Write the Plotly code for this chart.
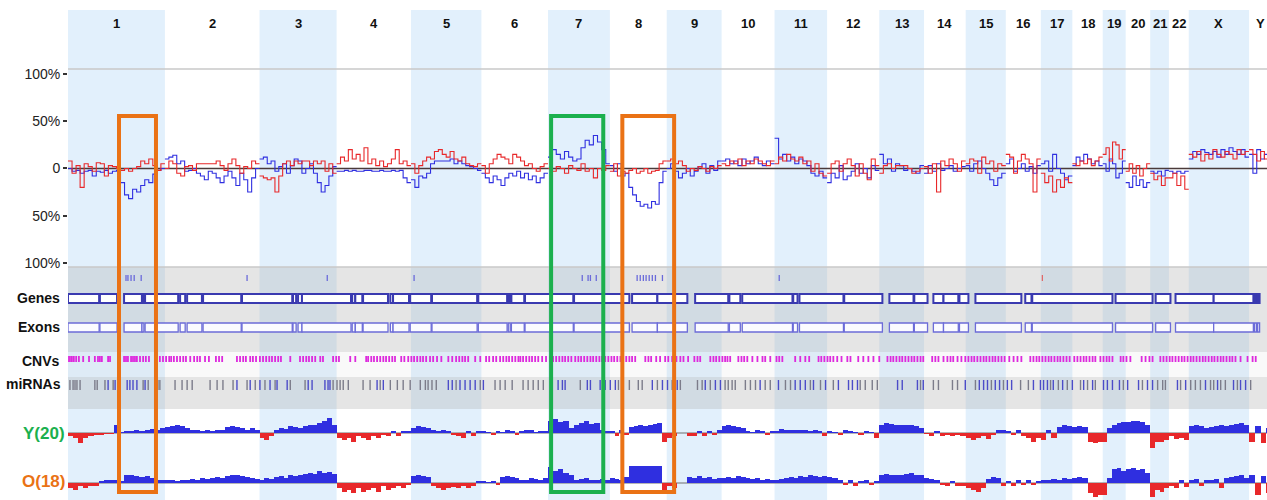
import plotly.graph_objects as go

# ---------------- data ----------------
CHROMS = [str(i) for i in range(1, 23)] + ["X", "Y"]
CHROM_LEN_MB = [249, 243, 198, 191, 181, 171, 159, 146, 141, 136, 135, 134,
                115, 107, 103, 90, 81, 78, 59, 63, 48, 51, 155, 59]
GENOME_VIEW_MB = 3080

# allele-imbalance (%) per chromosome, evenly spaced bins
BLUE = [
    [0, -3, -2, -5, -3, -2, -8, -3, -4, -2, -5, -3, -2, -15, -28, -32, -22, -25, -18, -12, -15, -6, -2, 0],
    [10, 12, 14, 5, 8, -3, -2, 0, -5, -8, -12, -3, -5, -10, -15, -8, -3, -10, -18, -5, -12, -25, -10, 0],
    [10, 12, 5, 8, -3, 2, 5, -5, 3, 10, 8, -5, 0, 5, -5, -15, -25, -18, -8, 2],
    [-3, -3, -2, -3, -2, -3, -3, -2, -2, -3, -3, -2, -3, -3, -2, -3, -2, -10, -15],
    [-12, -20, -8, -10, -5, 5, 8, 8, 8, 8, 10, 5, 8, 5, 3, 2, 0, -2],
    [-5, -10, -15, -8, -12, -18, -10, -5, -8, -3, -10, -5, -12, -8, -15, -10, -5],
    [12, 20, 15, 10, 18, 12, 8, 10, 22, 30, 25, 35, 28, 20, 5],
    [3, -3, 5, -8, -5, -20, -28, -35, -40, -38, -42, -35, -38, -15, -3],
    [0, 5, -3, -10, -5, 0, -8, -3, 2, 5, -5, 3, -2, 8],
    [8, 10, 5, 8, 3, 10, 5, 8, 12, 5, 3, 8, 5],
    [32, 10, 15, 8, 12, 5, 10, 8, 3, -5, -8, -3, -10],
    [-15, -5, -10, 3, -12, -8, -3, 5, -5, 0, -10, 3, -2],
    [15, 5, 10, -3, 5, 3, -2, 0, -3, -5, 3],
    [-5, 3, -3, 5, -2, 0, 3, -3, 0, 2],
    [3, -3, 5, 8, 0, -5, -12, -18, -10, -5],
    [5, 10, -3, 0, 5, -3, 2, -5, 3],
    [5, 8, -3, 15, 0, -5, -12, -8],
    [3, 12, 8, 15, 10, 5, 8, 3],
    [5, -3, 10, 5, -10, -5, 8],
    [-15, -20, -8, -18, -12, -20, -15],
    [-3, -5, -3, -8, -2],
    [-3, -5, -3, -5, -3],
    [10, 18, 15, 20, 17, 15, 18, 12, 20, 15, 22, 18, 15, 20, 12],
    [15, -5, 20, 10, 15, 10],
]
RED = [
    [8, -5, 3, -20, 5, 2, -3, 6, 5, -8, 3, 2, 0, -2, 0, -3, 0, 2, 8, 5, 10, 3, -2, 5],
    [0, 8, 5, -5, -8, 2, 3, -2, 5, 5, 5, 5, 5, 8, 3, -2, 5, 10, 3, -5, 2, 0, 8, 5],
    [-8, -10, -12, -10, -25, -8, 5, 8, 3, 8, 5, 8, 8, 3, 8, 5, 8, -3, 5, -5],
    [5, 12, 8, 20, 10, 15, 8, 22, 5, 10, 3, 8, 2, 5, 10, 20, 5, 8, 3],
    [5, -5, 3, 8, 12, 10, 18, 20, 15, 12, 18, 10, 8, 12, 5, 3, 2, 5],
    [3, -5, 5, 10, 15, 12, 10, 5, 15, 12, 8, 3, 5, 0, -3, 2, 5],
    [0, -3, 2, 0, -5, 3, 0, -2, 5, -3, 0, -10, 0, -2, 3],
    [-3, 5, -8, -3, -5, -2, 0, -5, -3, 0, -5, -3, -2, 5, 8],
    [8, 10, 5, 8, 3, -3, 0, -2, 2, 0, -3, 2, 0, 3],
    [5, 3, 8, 5, 10, 3, 8, 5, 10, 8, 5, 3, 8],
    [5, 12, 8, 15, 10, 8, 12, 5, 8, -3, 5, -5, -8],
    [-5, 5, 8, -3, 5, 10, 3, -8, 5, -5, -12, 10, 3],
    [-5, 3, 5, 0, 3, 3, 3, 0, -5, -3, 0],
    [2, -5, 5, -25, 8, 3, 10, 5, -3, 8],
    [5, 10, 8, -5, 12, 5, 8, -3, 5, 3],
    [15, 12, -5, 8, 15, 10, 5, -25, 10],
    [-5, -15, -8, -25, -12, -20, -10, -15],
    [5, 3, 8, 5, 10, 3, 8, 12],
    [15, 22, 8, 28, 25, 10, 20],
    [-3, 5, -5, 3, -8, 0, 5],
    [-5, -12, -8, -18, -10],
    [-10, -5, -18, -8, -22],
    [15, 12, 18, 8, 15, 10, 20, 15, 12, 18, 15, 10, 20, 15, 18],
    [20, 15, 8, 18, 10, 12],
]
# cohort tracks (relative units)
YOUNG = [
    [-0.2, -0.3, -0.6, -0.3, -0.2, -0.1, -0.1, -0.05, -0.05, 0.5, 0.05, 0.1, 0.1, 0.15, 0.1, 0.2, 0.25, 0.2, 0.3],
    [0.35, 0.4, 0.5, 0.4, 0.3, 0.2, 0.15, 0.1, 0.2, 0.1, 0.15, 0.2, 0.35, 0.4, 0.35, 0.3, 0.2, 0.3, 0.2],
    [-0.3, -0.4, -0.2, 0.2, 0.3, 0.25, 0.4, 0.35, 0.3, 0.4, 0.5, 0.45, 0.6, 0.7, 0.9, 0.5],
    [-0.3, -0.4, -0.3, -0.5, -0.2, -0.3, -0.4, -0.2, -0.3, -0.1, -0.2, 0.1, -0.2, 0.1, 0.1],
    [0.3, 0.4, 0.35, 0.3, 0.2, 0.1, 0.15, 0.1, -0.1, -0.2, -0.3, 0.1, -0.15, 0.1],
    [0.1, 0.05, -0.1, 0.1, 0.05, 0.15, 0.1, -0.1, 0.1, 0.2, 0.15, 0.05, 0.1, 0.1],
    [0.7, 0.8, 0.65, 0.7, 0.3, 0.5, 0.6, 0.7, 0.55, 0.6, 0.2, 0.1],
    [0.1, -0.2, 0.15, -0.1, 0.35, 0.4, 0.45, 0.4, 0.5, 0.55, 0.6, -0.5],
    [-0.3, -0.2, 0, 0, -0.15, -0.2, 0.1, -0.15, 0.1, -0.1, 0.15],
    [0.4, 0.45, 0.4, 0.35, 0.3, 0.1, 0.05, 0.15, 0.1, -0.1, 0.1],
    [0.1, 0.25, 0.2, 0.15, 0.2, 0.15, 0.2, 0.1, 0.15, 0.1, -0.15],
    [0.1, 0.05, -0.1, 0.15, 0.1, 0.05, -0.1, 0.1, 0.05, -0.3],
    [0.5, 0.6, 0.55, 0.5, 0.45, 0.5, 0.45, 0.4, 0.3],
    [-0.05, -0.15, 0.1, -0.2, -0.1, -0.15, -0.1, -0.2],
    [-0.3, -0.4, -0.3, -0.2, -0.35, -0.1, 0.2, 0.15],
    [0.1, -0.1, 0.15, -0.2, -0.3, -0.5, -0.3],
    [-0.4, 0.2, -0.3, 0.35, 0.45, 0.4],
    [0.35, 0.4, 0.35, -0.5, -0.6, -0.55],
    [-0.5, 0.3, 0.5, 0.6, 0.65],
    [0.65, 0.7, 0.7, 0.65, 0.5],
    [-0.9, -0.5, -0.55, -0.4],
    [-0.2, -0.35, -0.3, -0.4],
    [0.4, 0.45, 0.4, 0.3, 0.35, 0.4, 0.45, 0.4, 0.5, 0.55, 0.6, 0.5],
    [-0.5, 0.4, -0.6, 0.3],
]
OLD = [
    [-0.3, -0.4, -0.2, -0.3, -0.15, -0.2, 0.1, 0.15, 0.2, 0.15, 0.1, 0.5, 0.45, 0.4, 0.35, 0.4, 0.3, 0.15, 0.2],
    [0.15, 0.2, 0.1, 0.2, 0.15, 0.25, 0.2, 0.3, 0.25, 0.3, 0.35, 0.3, 0.4, 0.45, 0.5, 0.4, 0.35, 0.3, 0.25],
    [0.2, 0.3, 0.25, 0.35, 0.4, 0.3, 0.45, 0.4, 0.5, 0.55, 0.6, 0.55, 0.7, 0.6, 0.65, 0.55],
    [-0.3, -0.5, -0.4, -0.6, -0.3, -0.5, -0.4, -0.3, -0.5, -0.2, -0.4, -0.3, -0.2, -0.3, -0.1],
    [0.4, 0.45, 0.4, 0.35, -0.2, -0.3, -0.4, -0.3, -0.25, -0.3, -0.2, -0.3, -0.15, 0.1],
    [0.1, 0.05, 0.1, -0.1, 0.35, 0.4, 0.35, 0.3, 0.15, 0.2, 0.3, 0.25, 0.2, 0.3],
    [0.95, 0.7, 0.85, 0.6, 0.5, 0.2, 0.25, 0.3, 0.2, 0.15, 0.25, 0.2],
    [0.3, 0.25, 0.2, 0.35, 1.0, 1.05, 1.1, 1.0, 1.05, 1.15, 1.1, -0.5],
    [-0.2, -0.3, 0, 0, 0.35, 0.3, 0.4, 0.3, 0.35, 0.25, 0.3],
    [0.3, 0.35, 0.3, 0.4, 0.35, 0.3, 0.25, 0.3, 0.2, 0.25, 0.15],
    [0.2, 0.25, 0.3, 0.35, 0.3, 0.4, 0.35, 0.45, 0.4, 0.35, 0.4],
    [0.35, 0.3, 0.2, -0.1, 0.15, -0.15, 0.1, 0.2, -0.1, 0.1],
    [0.5, 0.55, 0.5, 0.45, 0.5, 0.55, 0.6, 0.5, 0.45],
    [0.3, 0.25, 0.2, -0.1, -0.15, 0.1, -0.2, -0.15],
    [-0.3, -0.4, -0.5, -0.3, 0.25, 0.35, 0.3, -0.2],
    [0.1, -0.15, 0.15, -0.1, 0.2, -0.1, 0.1],
    [0.15, 0.2, 0.25, 0.2, 0.3, 0.25],
    [0.3, 0.35, 0.3, -0.6, -0.8, -0.7],
    [-0.7, 0.3, 0.8, 0.9, 0.7],
    [0.85, 0.9, 0.75, 0.8, 0.6],
    [-0.8, -0.4, -0.5, -0.3],
    [-0.2, -0.3, 0.15, -0.25],
    [0.2, 0.25, -0.2, 0.15, 0.2, 0.25, -0.3, 0.3, 0.35, 0.4, 0.45, 0.3],
    [0.5, -0.7, 0.4, -0.6],
]

# genome annotation tracks (genome positions, Mb)
MARK_BLUE_MB = [149, 154, 162, 170, 188, 460, 666, 889, 1321, 1336, 1342, 1357,
                1462, 1470, 1478, 1485, 1493, 1501, 1509, 1527, 1827]
MARK_RED_MB = [2503]
GENE_START = [0, 82, 144, 190, 198, 288, 306, 347, 447, 578, 591, 601, 730, 738, 758, 828, 835,
              879, 935, 1054, 1131, 1139, 1174, 1300, 1449, 1514, 1611, 1699, 1732, 1863, 1879,
              1994, 2110, 2174, 2223, 2249, 2290, 2331, 2459, 2477, 2691, 2794, 2845, 2943, 3048, 3056]
GENE_END = [80, 126, 190, 195, 283, 301, 344, 445, 576, 586, 601, 727, 738, 756, 822, 835, 876,
            933, 1051, 1128, 1136, 1172, 1298, 1442, 1514, 1591, 1696, 1727, 1861, 1874, 1992,
            2092, 2172, 2208, 2249, 2287, 2313, 2449, 2475, 2683, 2786, 2832, 2943, 3045, 3053, 3061]
CNV_MB = [0, 5, 10, 15, 21, 28, 39, 54, 69, 77, 82, 87, 103, 108, 144, 149, 154, 162, 167, 172, 177,
          185, 193, 200, 208, 236, 244, 252, 260, 265, 272, 280, 288, 296, 303, 314, 324, 332, 339,
          352, 362, 380, 388, 396, 434, 442, 450, 457, 468, 475, 483, 493, 501, 509, 517, 524, 532,
          540, 547, 571, 596, 604, 612, 619, 627, 635, 648, 655, 681, 689, 696, 725, 738, 766, 771,
          779, 786, 794, 802, 810, 817, 825, 833, 840, 856, 864, 874, 882, 889, 897, 905, 912, 920,
          930, 938, 948, 959, 977, 987, 997, 1005, 1013, 1020, 1028, 1046, 1059, 1074, 1082, 1092,
          1100, 1110, 1118, 1126, 1133, 1141, 1149, 1157, 1162, 1169, 1177, 1185, 1192, 1200, 1208,
          1218, 1228, 1239, 1246, 1254, 1262, 1270, 1277, 1285, 1293, 1303, 1311, 1318, 1326, 1334,
          1342, 1349, 1357, 1365, 1372, 1380, 1388, 1396, 1403, 1411, 1419, 1426, 1434, 1442, 1449,
          1457, 1483, 1491, 1498, 1511, 1521, 1534, 1542, 1552, 1563, 1573, 1581, 1593, 1609, 1617,
          1624, 1650, 1658, 1665, 1673, 1681, 1688, 1694, 1701, 1722, 1730, 1737, 1745, 1758, 1771,
          1784, 1791, 1804, 1820, 1827, 1835, 1868, 1881, 1894, 1904, 1928, 1935, 1943, 1951, 1958,
          1966, 1976, 1987, 2002, 2010, 2030, 2043, 2056, 2069, 2084, 2105, 2113, 2120, 2128, 2136,
          2143, 2151, 2159, 2167, 2174, 2182, 2190, 2197, 2220, 2228, 2236, 2249, 2259, 2267, 2274,
          2285, 2295, 2305, 2313, 2321, 2328, 2336, 2344, 2352, 2359, 2367, 2375, 2382, 2390, 2398,
          2406, 2418, 2429, 2439, 2449, 2472, 2480, 2488, 2495, 2503, 2511, 2519, 2526, 2534, 2542,
          2549, 2557, 2565, 2573, 2585, 2593, 2601, 2609, 2616, 2624, 2632, 2639, 2652, 2660, 2668,
          2675, 2683, 2704, 2711, 2719, 2729, 2758, 2768, 2778, 2786, 2806, 2814, 2822, 2830, 2837,
          2845, 2853, 2861, 2868, 2876, 2884, 2891, 2899, 2907, 2915, 2922, 2930, 2938, 2945, 2953,
          2961, 2968, 2976, 2984, 2991, 2999, 3012, 3030, 3043, 3051]
MIRNA_GRAY_MB = [5, 13, 18, 23, 31, 69, 75, 95, 116, 193, 206, 231, 236, 275, 293, 306, 319, 365, 383,
                 398, 424, 460, 481, 506, 532, 571, 609, 681, 691, 699, 707, 720, 758, 776, 802, 828,
                 846, 861, 879, 905, 918, 925, 935, 946, 997, 1059, 1097, 1110, 1123, 1141, 1169, 1182,
                 1195, 1208, 1221, 1316, 1414, 1442, 1465, 1475, 1514, 1552, 1573, 1617, 1629, 1650,
                 1688, 1696, 1706, 1714, 1740, 1753, 1766, 1791, 1804, 1843, 1856, 1907, 1933, 1966,
                 2035, 2048, 2066, 2079, 2190, 2223, 2236, 2272, 2285, 2331, 2372, 2403, 2447, 2467,
                 2524, 2544, 2567, 2601, 2619, 2639, 2711, 2760, 2799, 2812, 2819, 2858, 2884, 2896,
                 2909, 2935, 2943, 2961, 2973, 3004, 3038]
MIRNA_BLUE_MB = [103, 121, 152, 159, 167, 177, 198, 434, 468, 493, 519, 537, 563, 617, 627, 660, 668,
                 673, 794, 810, 977, 987, 1007, 1020, 1033, 1046, 1067, 1259, 1270, 1277, 1334, 1342,
                 1367, 1380, 1393, 1406, 1501, 1527, 1540, 1565, 1637, 1663, 1676, 1778, 1825, 1868,
                 1881, 1894, 1915, 1946, 1979, 2005, 2015, 2028, 2131, 2143, 2182, 2197, 2305, 2341,
                 2352, 2362, 2382, 2393, 2413, 2424, 2480, 2498, 2506, 2516, 2531, 2555, 2580, 2609,
                 2632, 2660, 2670, 2683, 2701, 2722, 2750, 2773, 2786, 2850, 2871, 2922, 2953, 2994,
                 3012, 3025]
# highlighted regions (Mb)
HIGHLIGHTS = [("orange", 131, 226), ("green", 1241, 1375), ("orange", 1424, 1557)]

# ---------------- layout helpers ----------------
W, H = 1267, 500
def py(pix):
    return 1 - pix / H

starts = []
acc = 0
for L in CHROM_LEN_MB:
    starts.append(acc)
    acc += L

def step_xy(series):
    xs, ys = [], []
    for s, L, vals in zip(starts, CHROM_LEN_MB, series):
        n = len(vals)
        for i, v in enumerate(vals):
            xs.append(s + L * i / n)
            ys.append(v)
        xs.append(s + L)
        ys.append(vals[-1])
        xs.append(None)
        ys.append(None)
    return xs, ys

def bar_xy(series):
    xs, ws, vs = [], [], []
    for s, L, vals in zip(starts, CHROM_LEN_MB, series):
        n = len(vals)
        for i, v in enumerate(vals):
            xs.append(s + L * (i + 0.5) / n)
            ws.append(L / n)
            vs.append(v)
    return xs, ws, vs

def tick_xy(pos, y0, y1):
    xs, ys = [], []
    for p in pos:
        xs += [p, p, None]
        ys += [y0, y1, None]
    return xs, ys

BLUE_C = "#2F2FE0"
RED_C = "#E8282A"
FONT = "Arial, Liberation Sans, sans-serif"

fig = go.Figure()

# main panel lines
bx, byy = step_xy(BLUE)
rx, ryy = step_xy(RED)
fig.add_trace(go.Scatter(x=bx, y=byy, mode="lines", line=dict(color=BLUE_C, width=1.1, shape="hv"),
                         xaxis="x", yaxis="y", hoverinfo="skip"))
fig.add_trace(go.Scatter(x=rx, y=ryy, mode="lines", line=dict(color=RED_C, width=1.1, shape="hv"),
                         xaxis="x", yaxis="y", hoverinfo="skip"))

# annotation tracks (y2 uses a reversed row scale)
ROW_MARK = (275, 281)
ROW_GENE = (294, 303)
ROW_EXON = (323, 332)
ROW_CNV = (356, 362)
ROW_MIR = (380, 390)

for pos, col, w in [(MARK_BLUE_MB, "#6A6ADA", 1.3), (MARK_RED_MB, "#E06A6A", 1.3)]:
    tx, ty = tick_xy(pos, *ROW_MARK)
    fig.add_trace(go.Scatter(x=tx, y=ty, mode="lines", line=dict(color=col, width=w),
                             xaxis="x", yaxis="y2", hoverinfo="skip"))
tx, ty = tick_xy(CNV_MB, *ROW_CNV)
fig.add_trace(go.Scatter(x=tx, y=ty, mode="lines", line=dict(color="#DD2ADD", width=1.8),
                         xaxis="x", yaxis="y2", hoverinfo="skip"))
tx, ty = tick_xy(MIRNA_GRAY_MB, *ROW_MIR)
fig.add_trace(go.Scatter(x=tx, y=ty, mode="lines", line=dict(color="#7C7C8A", width=1.4),
                         xaxis="x", yaxis="y2", hoverinfo="skip"))
tx, ty = tick_xy(MIRNA_BLUE_MB, *ROW_MIR)
fig.add_trace(go.Scatter(x=tx, y=ty, mode="lines", line=dict(color="#4C4CC8", width=1.4),
                         xaxis="x", yaxis="y2", hoverinfo="skip"))

# cohort bars
for series, yax in [(YOUNG, "y3"), (OLD, "y4")]:
    xs, ws, vs = bar_xy(series)
    fig.add_trace(go.Bar(x=xs, y=vs, width=ws,
                         marker=dict(color=[BLUE_C if v >= 0 else RED_C for v in vs], line=dict(width=0)),
                         xaxis="x", yaxis=yax, hoverinfo="skip"))

shapes = []
# chromosome bands
for i, (s, L) in enumerate(zip(starts, CHROM_LEN_MB)):
    if i % 2 == 0:
        shapes.append(dict(type="rect", xref="x", yref="paper", x0=s, x1=s + L, y0=0, y1=py(10),
                           fillcolor="#E2F0FC", line=dict(width=0), layer="below"))
# gray track background
for top, bot, op in [(267, 352, 0.33), (352, 377, 0.08), (377, 409, 0.33)]:
    shapes.append(dict(type="rect", xref="paper", yref="paper", x0=0, x1=1, y0=py(bot), y1=py(top),
                       fillcolor="rgba(175,175,175,%.2f)" % op, line=dict(width=0), layer="below"))
# main panel frame lines and zero line
for yv in [0, 1]:
    shapes.append(dict(type="line", xref="paper", yref="y domain", x0=0, x1=1, y0=yv, y1=yv,
                       line=dict(color="#C8C8C8", width=1.5), layer="below"))
shapes.append(dict(type="line", xref="paper", yref="y", x0=0, x1=1, y0=0, y1=0,
                   line=dict(color="#4A3A3A", width=1.5), layer="below"))
for yax in ["y3", "y4"]:
    shapes.append(dict(type="line", xref="paper", yref=yax, x0=0, x1=1, y0=0, y1=0,
                       line=dict(color="#6E6E6E", width=1), layer="below"))
# gene / exon boxes
for a, b in zip(GENE_START, GENE_END):
    shapes.append(dict(type="rect", xref="x", yref="y2", x0=a, x1=b, y0=ROW_GENE[0], y1=ROW_GENE[1],
                       fillcolor="white", line=dict(color="#3A3AB0", width=2)))
    shapes.append(dict(type="rect", xref="x", yref="y2", x0=a, x1=b, y0=ROW_EXON[0], y1=ROW_EXON[1],
                       fillcolor="#FBFBFF", line=dict(color="#6C6CD8", width=1.3)))
# highlight boxes
HL_COL = {"orange": "#EA7215", "green": "#1BB04E"}
for name, a, b in HIGHLIGHTS:
    shapes.append(dict(type="rect", xref="x", yref="paper", x0=a, x1=b, y0=py(492), y1=py(116),
                       fillcolor="rgba(0,0,0,0)", line=dict(color=HL_COL[name], width=4)))

annotations = []
for c, s, L in zip(CHROMS, starts, CHROM_LEN_MB):
    annotations.append(dict(x=s + L / 2, y=py(23), xref="x", yref="paper", text="<b>%s</b>" % c,
                            xanchor="center", yanchor="middle",
                            showarrow=False, font=dict(size=13, color="#111", family=FONT)))
for txt, ypix, col, size, xoff in [("Genes", 298, "#111", 14, -0.005), ("Exons", 327, "#111", 14, -0.005),
                                   ("CNVs", 361, "#111", 14, -0.005), ("miRNAs", 384, "#111", 14, -0.004),
                                   ("Y(20)", 433, "#1BB04E", 17, -0.001), ("O(18)", 481, "#EA7215", 17, -0.001)]:
    annotations.append(dict(x=xoff, y=py(ypix), xref="paper", yref="paper", text="<b>%s</b>" % txt,
                            xanchor="right", yanchor="middle", showarrow=False,
                            font=dict(size=size, color=col, family=FONT)))

fig.update_layout(
    width=W, height=H, margin=dict(l=68, r=0, t=0, b=0),
    paper_bgcolor="white", plot_bgcolor="rgba(0,0,0,0)", showlegend=False,
    barmode="overlay", bargap=0,
    xaxis=dict(range=[0, GENOME_VIEW_MB], visible=False, domain=[0, 1]),
    yaxis=dict(domain=[py(267), py(69)], range=[-104.5, 105.5],
               tickvals=[100, 50, 0, -50, -100], ticktext=["100%", "50%", "0", "50%", "100%"],
               ticks="outside", ticklen=4, tickwidth=1.5, tickcolor="#333",
               tickfont=dict(size=14, color="#222", family=FONT),
               showgrid=False, zeroline=False, showline=False, automargin=False),
    yaxis2=dict(domain=[py(409), py(267)], range=[409, 267], visible=False, anchor="x"),
    yaxis3=dict(domain=[py(450), py(416)], range=[-1, 1], visible=False, anchor="x"),
    yaxis4=dict(domain=[py(500), py(466)], range=[-1, 1], visible=False, anchor="x"),
    shapes=shapes, annotations=annotations,
)

fig.write_html("out.html", config={"displayModeBar": False},
               post_script="document.body.style.margin='0';document.body.style.overflow='hidden';")
